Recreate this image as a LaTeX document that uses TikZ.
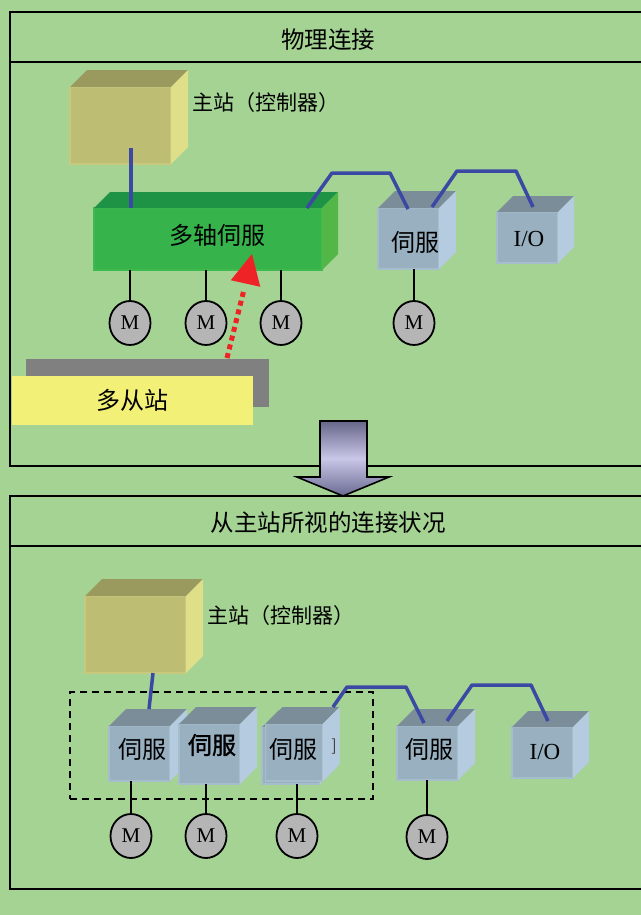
\documentclass[tikz,border=0pt]{standalone}
\usepackage{fontspec}
\setmainfont{Liberation Serif}
\newfontfamily\cjk{Noto Sans CJK SC}
\newfontfamily\cjkb[FakeBold=1.3]{Noto Sans CJK SC}
\usetikzlibrary{shapes.geometric,calc}
\definecolor{bg}{HTML}{A4D394}
\definecolor{yfront}{HTML}{BDBD74}
\definecolor{ytop}{HTML}{9B9A5E}
\definecolor{yside}{HTML}{DFDE89}
\definecolor{yedge}{HTML}{C9C97E}
\definecolor{gfront}{HTML}{36B34A}
\definecolor{gtop}{HTML}{1E9345}
\definecolor{gside}{HTML}{53B747}
\definecolor{gedge}{HTML}{3FBA4F}
\definecolor{sfront}{HTML}{98B0C0}
\definecolor{stop}{HTML}{7A8D98}
\definecolor{sside}{HTML}{B5CCE0}
\definecolor{sedge}{HTML}{A6BDCC}
\definecolor{blueline}{HTML}{3B49A5}
\definecolor{redarr}{HTML}{EE2326}
\definecolor{greyrect}{HTML}{808080}
\definecolor{ylab}{HTML}{F2F077}
\definecolor{mgrey}{HTML}{B5B5B5}
\definecolor{arrtop}{HTML}{66668A}
\definecolor{arrmid}{HTML}{C9C7E7}
\definecolor{arrbot}{HTML}{6A6A92}
\newcommand\cubefaces[4]{%
  \fill[#3] (#1.north west) -- ++(#2,-#2) -- ($(#1.north east)+(#2,-#2)$) -- (#1.north east) -- cycle;
  \fill[#4] (#1.north east) -- ++(#2,-#2) -- ($(#1.south east)+(#2,-#2)$) -- (#1.south east) -- cycle;}
\begin{document}
\begin{tikzpicture}[x=1bp,y=-1bp,
  cube/.style={rectangle, inner sep=0pt, outer sep=0pt, line width=1.5bp},
  ycube/.style={cube, fill=yfront, draw=yedge},
  gcube/.style={cube, fill=gfront, draw=gedge},
  scube/.style={cube, fill=sfront, draw=sedge},
  panel/.style={draw=black, line width=2bp},
  headtext/.style={inner sep=0pt, font=\cjk\fontsize{23.5bp}{24bp}\selectfont},
  cjktext/.style={inner sep=0pt, font=\cjk\fontsize{21bp}{22bp}\selectfont},
  boxtext/.style={inner sep=0pt, font=\cjk\fontsize{24bp}{25bp}\selectfont},
  serif/.style={inner sep=0pt, font=\fontsize{23bp}{23bp}\selectfont},
  motor/.style={ellipse, draw=black, line width=1.8bp, fill=mgrey, minimum width=41bp, minimum height=44bp, inner sep=0pt, font=\fontsize{21bp}{21bp}\selectfont},
  bus/.style={draw=blueline, line width=3.5bp, line join=round},
  wire/.style={draw=black, line width=1.6bp},
]
\fill[bg] (0,0) rectangle (641,915);
\useasboundingbox (0,0) rectangle (641,915);

% ---------- panels ----------
\draw[panel] (10,12) rectangle (650,466);
\draw[panel] (10,62) -- (650,62);
\node[headtext] (h1) at (328,40) {物理连接};
\draw[panel] (10,496) rectangle (650,889);
\draw[panel] (10,546) -- (650,546);
\node[headtext] (h2) at (328,523) {从主站所视的连接状况};

% ---------- top section ----------
\node[ycube, minimum width=101bp, minimum height=77bp] (m1) at (120.5,125.5) {};
\cubefaces{m1}{17}{ytop}{yside}
\node[cjktext, anchor=west] (m1l) at (192,103) {主站（控制器）};

\node[gcube, minimum width=228bp, minimum height=62bp] (g1) at (208,239) {};
\cubefaces{g1}{16}{gtop}{gside}
\node[boxtext] (g1t) at (217,235) {多轴伺服};

\node[scube, minimum width=61bp, minimum height=61bp] (s0) at (408.5,238.5) {};
\cubefaces{s0}{17}{stop}{sside}
\node[boxtext] (s0t) at (415,242) {伺服};

\node[scube, minimum width=61bp, minimum height=51bp] (io1) at (527.5,237.5) {};
\cubefaces{io1}{16}{stop}{sside}
\node[serif] (io1t) at (529,239) {I/O};

% buses top
\coordinate (a1) at (131,148);
\draw[bus] (a1) -- (a1 |- g1.north);
\coordinate (a2) at (307,208);
\coordinate (a3) at (332,173);
\coordinate (a4) at (390,173);
\coordinate (a5) at (408,209);
\draw[bus] (a2) -- (a3) -- (a4) -- (a5);
\coordinate (a6) at (432,207);
\coordinate (a7) at (457,171);
\coordinate (a8) at (516,171);
\coordinate (a9) at (533,207);
\draw[bus] (a6) -- (a7) -- (a8) -- (a9);

% motors top
\node[motor] (ma) at (130,323) {M};
\node[motor] (mb) at (206,323) {M};
\node[motor] (mc) at (281,323) {M};
\node[motor] (md) at (414,323) {M};
\draw[wire] (ma.north |- g1.south) -- (ma.north);
\draw[wire] (mb.north |- g1.south) -- (mb.north);
\draw[wire] (mc.north |- g1.south) -- (mc.north);
\draw[wire] (md.north |- s0.south) -- (md.north);

% red dotted arrow
\coordinate (rs) at (227,358);
\coordinate (rb) at (245.5,283.5);
\coordinate (rt) at (252,254);
\draw[redarr, line width=5bp, dash pattern=on 5bp off 4bp] (rs) -- ($(rs)!0.93!(rb)$);
\fill[redarr] (rt) -- ($(rb)!0.5!90:(rt)$) -- ($(rb)!0.5!-90:(rt)$) -- cycle;

% multi slave labels
\node[rectangle, fill=greyrect, minimum width=243bp, minimum height=48bp, inner sep=0pt] (gr) at (147.5,383) {};
\node[rectangle, fill=ylab, minimum width=241bp, minimum height=49bp, inner sep=0pt, font=\cjk\fontsize{24bp}{25bp}\selectfont] (yl) at (132.5,400) {多从站};

% ---------- big arrow ----------
\coordinate (ba1) at (320,421);
\coordinate (ba2) at (367,421);
\coordinate (ba3) at (367,477);
\coordinate (ba4) at (389,477);
\coordinate (ba5) at (343,496);
\coordinate (ba6) at (297,477);
\coordinate (ba7) at (320,477);
\shade[top color=arrtop, bottom color=arrbot, middle color=arrmid] (ba1) -- (ba2) -- (ba3) -- (ba4) -- (ba5) -- (ba6) -- (ba7) -- cycle;
\draw[black, line width=1.6bp, line join=miter] (ba1) -- (ba2) -- (ba3) -- (ba4) -- (ba5) -- (ba6) -- (ba7) -- cycle;

% ---------- bottom section ----------
\node[ycube, minimum width=101bp, minimum height=77bp] (m2) at (135.5,634.5) {};
\cubefaces{m2}{17}{ytop}{yside}
\node[cjktext, anchor=west] (m2l) at (207,616) {主站（控制器）};

\node[scube, minimum width=61bp, minimum height=55bp] (s1) at (139.5,753.5) {};
\cubefaces{s1}{17}{stop}{sside}
\node[boxtext] (s1t) at (142,749) {伺服};

\node[scube, minimum width=61bp, minimum height=60bp] (s2) at (209.5,754) {};
\cubefaces{s2}{17}{stop}{sside}
\node[inner sep=0pt, font=\cjkb\fontsize{24bp}{25bp}\selectfont] (s2t) at (212,745) {伺服};

\node[scube, minimum width=58bp, minimum height=57bp] (s3b) at (291,755.5) {};
\cubefaces{s3b}{17}{stop}{sside}
\node[scube, minimum width=57bp, minimum height=57bp] (s3) at (294,752.5) {};
\cubefaces{s3}{17}{stop}{sside}
\node[boxtext] (s3t) at (293,749) {伺服};
\node[inner sep=0pt, text=black!75, font=\cjk\fontsize{16bp}{16bp}\selectfont] (s3x) at (334,747) {]};

\node[scube, minimum width=61bp, minimum height=54bp] (s4) at (427.5,753) {};
\cubefaces{s4}{17}{stop}{sside}
\node[boxtext] (s4t) at (429,749) {伺服};

\node[scube, minimum width=61bp, minimum height=51bp] (io2) at (542.5,752.5) {};
\cubefaces{io2}{16}{stop}{sside}
\node[serif] (io2t) at (545,752) {I/O};

% dashed group
\node[rectangle, draw=black, line width=2bp, dash pattern=on 7bp off 5bp, minimum width=303bp, minimum height=107bp, inner sep=0pt] (grp) at (221.5,745.5) {};

% buses bottom
\coordinate (c1) at (153,673);
\coordinate (c2) at (149,709);
\draw[bus] (c1) -- (c2);
\coordinate (c3) at (333,707);
\coordinate (c4) at (347,687);
\coordinate (c5) at (406,687);
\coordinate (c6) at (424,723);
\draw[bus] (c3) -- (c4) -- (c5) -- (c6);
\coordinate (c7) at (447,721);
\coordinate (c8) at (472,685);
\coordinate (c9) at (531,685);
\coordinate (c10) at (548,721);
\draw[bus] (c7) -- (c8) -- (c9) -- (c10);

% motors bottom
\node[motor] (me) at (131,836) {M};
\node[motor] (mf) at (206,836) {M};
\node[motor] (mg) at (297,836) {M};
\node[motor] (mh) at (427,837) {M};
\draw[wire] (me.north |- s1.south) -- (me.north);
\draw[wire] (mf.north |- s2.south) -- (mf.north);
\draw[wire] (mg.north |- s3b.south) -- (mg.north);
\draw[wire] (mh.north |- s4.south) -- (mh.north);
\end{tikzpicture}
\end{document}
